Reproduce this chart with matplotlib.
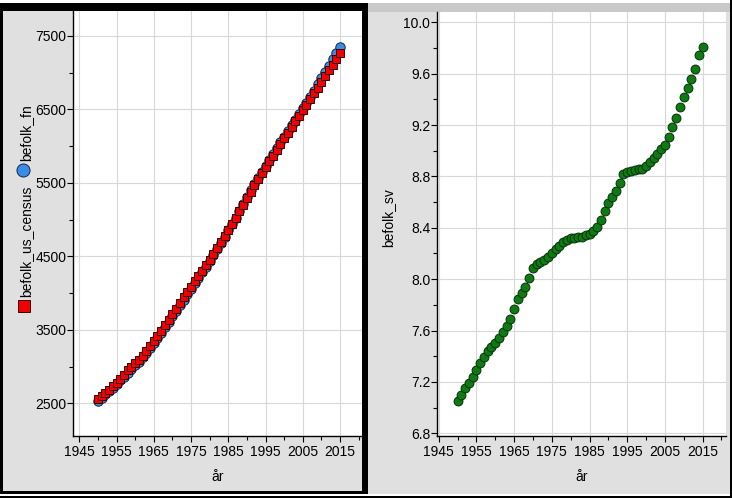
import matplotlib
matplotlib.use("Agg")
import matplotlib.pyplot as plt
from matplotlib.patches import Rectangle
from matplotlib.lines import Line2D
from matplotlib.ticker import FixedLocator, FormatStrFormatter

plt.rcParams['font.family'] = ['Liberation Sans', 'DejaVu Sans']

# ---------------- data ----------------
years = list(range(1950, 2016))

befolk_fn = [2526, 2573, 2620, 2667, 2715, 2763, 2812, 2863, 2915, 2966,
             3018, 3069, 3125, 3189, 3255, 3322, 3392, 3462, 3534, 3607,
             3682, 3757, 3833, 3910, 3986, 4061, 4135, 4208, 4282, 4359,
             4440, 4521, 4603, 4686, 4769, 4853, 4939, 5027, 5118, 5209,
             5310, 5397, 5482, 5567, 5651, 5735, 5816, 5897, 5976, 6055,
             6127, 6204, 6282, 6359, 6436, 6520, 6594, 6675, 6757, 6840,
             6930, 7012, 7097, 7182, 7266, 7349]

befolk_us_census = [2557, 2594, 2636, 2682, 2730, 2782, 2835, 2891, 2948, 3001,
                     3043, 3084, 3140, 3210, 3281, 3350, 3421, 3490, 3562, 3637,
                     3713, 3790, 3867, 3942, 4017, 4089, 4160, 4232, 4304, 4379,
                     4451, 4534, 4615, 4696, 4775, 4856, 4941, 5029, 5117, 5205,
                     5295, 5381, 5465, 5549, 5630, 5712, 5793, 5873, 5952, 6030,
                     6107, 6184, 6260, 6336, 6412, 6488, 6564, 6641, 6719, 6797,
                     6875, 6953, 7031, 7109, 7187, 7262]

befolk_sv = [7.05, 7.10, 7.156, 7.193, 7.236, 7.293, 7.345, 7.397, 7.438, 7.474,
             7.50, 7.542, 7.586, 7.633, 7.692, 7.77, 7.843, 7.895, 7.937, 8.007,
             8.09, 8.116, 8.136, 8.152, 8.17, 8.204, 8.235, 8.26, 8.287, 8.305,
             8.318, 8.323, 8.326, 8.328, 8.34, 8.354, 8.377, 8.408, 8.46, 8.53,
             8.59, 8.64, 8.69, 8.745, 8.816, 8.837, 8.844, 8.847, 8.854, 8.861,
             8.883, 8.909, 8.941, 8.976, 9.011, 9.048, 9.11, 9.182, 9.253, 9.338,
             9.416, 9.486, 9.556, 9.639, 9.743, 9.805]

x_ticks = [1945, 1955, 1965, 1975, 1985, 1995, 2005, 2015]
x_minor = [1950, 1960, 1970, 1980, 1990, 2000, 2010, 2020]
y1_ticks = [2500, 3500, 4500, 5500, 6500, 7500]
y1_minor = [3000, 4000, 5000, 6000, 7000]
y2_ticks = [6.8, 7.2, 7.6, 8.0, 8.4, 8.8, 9.2, 9.6, 10.0]
y2_minor = [7.0, 7.4, 7.8, 8.2, 8.6, 9.0, 9.4, 9.8]

# ---------------- figure ----------------
W, H = 732, 498
fig = plt.figure(figsize=(W / 100, H / 100), dpi=100, facecolor='white')


def rect(x0, y0, x1, y1):
    return [x0 / W, 1 - y1 / H, (x1 - x0) / W, (y1 - y0) / H]


bg = fig.add_axes([0, 0, 1, 1], zorder=-1)
bg.set_xlim(0, W)
bg.set_ylim(H, 0)
bg.axis('off')

PANEL = '#e0e0e0'
# left panel (selected: thick black frame)
bg.add_patch(Rectangle((0, 3), 368, 491, fc='black', ec='none'))
bg.add_patch(Rectangle((3, 11), 359, 480, fc=PANEL, ec='none'))
# right panel
bg.add_patch(Rectangle((368, 3), 362, 491, fc=PANEL, ec='none'))
bg.add_patch(Rectangle((368, 3), 362, 9, fc='#c9c9c9', ec='none'))
bg.add_patch(Rectangle((730, 0), 2, H, fc='black', ec='none'))
bg.add_patch(Rectangle((0, 496), W, 2, fc='black', ec='none'))

GRID = '#d8d8d8'


def style(ax):
    ax.set_facecolor('white')
    for s in ('top', 'right'):
        ax.spines[s].set_visible(False)
    for s in ('left', 'bottom'):
        ax.spines[s].set_linewidth(1.0)
        ax.spines[s].set_color('black')
    ax.grid(True, which='major', color=GRID, lw=0.8)
    ax.set_axisbelow(True)
    ax.tick_params(which='major', direction='out', length=4.3, width=0.8,
                   labelsize=10, colors='black')
    ax.tick_params(which='minor', direction='out', length=3.0, width=0.8,
                   colors='black')
    ax.tick_params(axis='y', which='major', pad=0.5)
    ax.tick_params(axis='x', which='major', pad=2.5)
    ax.xaxis.set_major_locator(FixedLocator(x_ticks))
    ax.xaxis.set_minor_locator(FixedLocator(x_minor))


# ---- left axes ----
ax1 = fig.add_axes(rect(73.3, 11, 362, 436))
style(ax1)
ax1.set_xlim(1943.4, 2020.9)
ax1.set_ylim(2055, 7840)
ax1.yaxis.set_major_locator(FixedLocator(y1_ticks))
ax1.yaxis.set_minor_locator(FixedLocator(y1_minor))
ax1.plot(years, befolk_fn, ls='none', marker='o', ms=6.8, mfc='#3b8de3',
         mec='#10284a', mew=0.7, clip_on=False, zorder=3)
ax1.plot(years, befolk_us_census, ls='none', marker='s', ms=6.2, mfc='#f00000',
         mec='#3a0000', mew=0.7, clip_on=False, zorder=4)
ax1.set_xlabel('år', fontsize=10)
ax1.xaxis.set_label_coords(0.5, -(477 - 436) / 425)
ax1.xaxis.label.set_va('center')

# ---- right axes ----
ax2 = fig.add_axes(rect(436.8, 12, 726, 436))
style(ax2)
ax2.set_xlim(1944.5, 2021.2)
ax2.set_ylim(6.779, 10.08)
ax2.yaxis.set_major_locator(FixedLocator(y2_ticks))
ax2.yaxis.set_minor_locator(FixedLocator(y2_minor))
ax2.yaxis.set_major_formatter(FormatStrFormatter('%.1f'))
ax2.plot(years, befolk_sv, ls='none', marker='o', ms=6.4, mfc='#0d7a12',
         mec='#06300a', mew=0.7, clip_on=False, zorder=3)
ax2.set_xlabel('år', fontsize=10)
ax2.xaxis.set_label_coords(0.5, -(477 - 436) / 424)
ax2.xaxis.label.set_va('center')

# ---- y labels (drawn in the panel area) ----
bg.text(26, 297, 'befolk_us_census', rotation=90, ha='center', va='bottom',
        fontsize=10)
bg.text(26, 161, 'befolk_fn', rotation=90, ha='center', va='bottom',
        fontsize=10)
bg.add_line(Line2D([23.7], [306], marker='s', ms=9, mfc='#f00000',
                   mec='#3a0000', mew=0.7, ls='none'))
bg.add_line(Line2D([23.3], [170], marker='o', ms=9.4, mfc='#3b8de3',
                   mec='#10284a', mew=0.7, ls='none'))
bg.text(388, 218, 'befolk_sv', rotation=90, ha='center', va='center',
        fontsize=10)

fig.savefig('out.png', dpi=100, facecolor='white')
